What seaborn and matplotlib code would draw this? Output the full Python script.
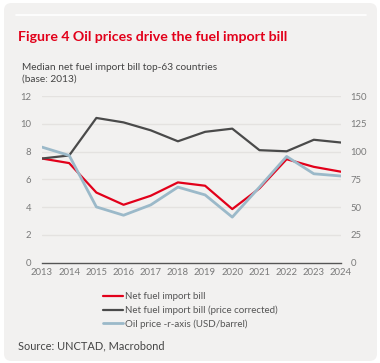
import matplotlib
matplotlib.use("Agg")
import matplotlib.pyplot as plt
import seaborn as sns
import pandas as pd
from matplotlib.patches import FancyBboxPatch
from matplotlib.lines import Line2D

years = [2013, 2014, 2015, 2016, 2017, 2018, 2019, 2020, 2021, 2022, 2023, 2024]
net_bill = [7.5, 7.17, 5.05, 4.17, 4.82, 5.78, 5.54, 3.86, 5.35, 7.45, 6.9, 6.55]
net_bill_corrected = [7.5, 7.72, 10.42, 10.1, 9.53, 8.74, 9.42, 9.65, 8.1, 8.02, 8.85, 8.65]
oil_price = [104, 96.5, 50.2, 42.7, 52, 68, 61, 41, 68, 95.6, 80, 78]

left_ticks = [0, 2, 4, 6, 8, 10, 12]
right_ticks = [0, 25, 50, 75, 100, 125, 150]

title = "Figure 4 Oil prices drive the fuel import bill"
subtitle = "Median net fuel import bill top-63 countries\n(base: 2013)"
labels = ["Net fuel import bill", "Net fuel import bill (price corrected)",
          "Oil price -r-axis (USD/barrel)"]
source = "Source: UNCTAD, Macrobond"

RED = "#e2001a"
DARK = "#4a4a4a"
BLUE = "#9bb9c9"
PANEL = "#f2f1f0"
GRID = "#e4e2e0"
TXT = "#7a7a7a"

sns.set_theme(style="white")
plt.rcParams["font.family"] = ["Lato", "DejaVu Sans"]

W, H = 380, 363
fig = plt.figure(figsize=(W / 100, H / 100), dpi=100)
fig.patch.set_facecolor("white")

panel = FancyBboxPatch((4 / W, 2 / H), 373 / W, 358 / H,
                       boxstyle="round,pad=0,rounding_size=0.02",
                       transform=fig.transFigure, facecolor=PANEL,
                       edgecolor="none", zorder=-10)
fig.patches.append(panel)
fig.add_artist(Line2D([16 / W, 366 / W], [1 - 15 / H, 1 - 15 / H],
                      transform=fig.transFigure, color="white", lw=1.2,
                      zorder=-5))

fig.text(18 / W, 1 - 37 / H, title, color=RED, fontsize=10.2,
         fontweight="bold", va="center", ha="left")
fig.text(22 / W, 1 - 73 / H, subtitle, color="#444444", fontsize=7.3,
         va="center", ha="left", linespacing=1.4)
fig.text(18 / W, 1 - 346 / H, source, color="#444444", fontsize=7.9,
         va="center", ha="left")

left, right = 42 / W, 341 / W
bottom, top = 1 - 262.7 / H, 1 - 96 / H
ax = fig.add_axes([left, bottom, right - left, top - bottom])
ax.set_facecolor("none")

df = pd.DataFrame({"year": years, "net": net_bill, "corr": net_bill_corrected,
                   "oil": oil_price})

sns.lineplot(data=df, x="year", y="net", ax=ax, color=RED, lw=1.6, zorder=3)
sns.lineplot(data=df, x="year", y="corr", ax=ax, color=DARK, lw=1.6, zorder=3)

ax.set_xlim(2013, 2024)
ax.set_ylim(0, 12)
ax.set_yticks(left_ticks)
ax.set_xticks(years)
ax.set_xlabel("")
ax.set_ylabel("")
for t in left_ticks[1:]:
    ax.axhline(t, color=GRID, lw=1.0, zorder=1)
for s in ["top", "right", "left"]:
    ax.spines[s].set_visible(False)
ax.spines["bottom"].set_color("#555555")
ax.spines["bottom"].set_linewidth(1.0)
ax.tick_params(axis="y", length=0, pad=8, labelsize=6.8, labelcolor=TXT)
ax.tick_params(axis="x", length=0, pad=4, labelsize=6.8, labelcolor=TXT)

ax2 = ax.twinx()
sns.lineplot(data=df, x="year", y="oil", ax=ax2, color=BLUE, lw=2.0, zorder=3)
ax2.set_ylim(0, 150)
ax2.set_yticks(right_ticks)
ax2.set_ylabel("")
for s in ["top", "right", "left", "bottom"]:
    ax2.spines[s].set_visible(False)
ax2.tick_params(axis="y", length=0, pad=7, labelsize=6.8, labelcolor=TXT)

handles = [Line2D([], [], color=RED, lw=1.6),
           Line2D([], [], color=DARK, lw=1.6),
           Line2D([], [], color=BLUE, lw=2.0)]
leg = fig.legend(handles, labels, loc="upper left",
                 bbox_to_anchor=(103 / W, 1 - 292 / H), frameon=False,
                 fontsize=7.0, handlelength=2.1, handletextpad=0.15,
                 labelspacing=0.45, borderpad=0, borderaxespad=0)
for t in leg.get_texts():
    t.set_color("#555555")

fig.savefig("out.png", dpi=100, facecolor="white")
